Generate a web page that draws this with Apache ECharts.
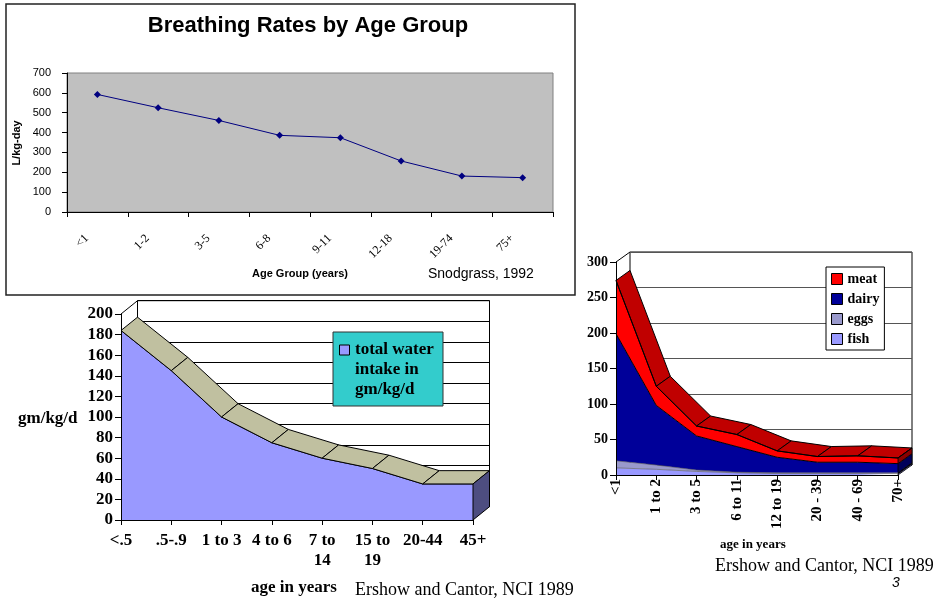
<!DOCTYPE html>
<html>
<head>
<meta charset="utf-8">
<script src="https://cdn.jsdelivr.net/npm/echarts/dist/echarts.min.js"></script>
<style>
html, body { margin: 0; padding: 0; background: #fff; }
#main { width: 947px; height: 610px; }
</style>
</head>
<body>
<div id="main"></div>
<script>
// breathing rates (top chart)
var breathAges = ['<1', '1-2', '3-5', '6-8', '9-11', '12-18', '19-74', '75+'];
var breathRates = [592, 525, 461, 386, 374, 257, 181, 173];

// total water intake (bottom left)
var waterAges = ['<.5', '.5-.9', '1 to 3', '4 to 6', '7 to\n14', '15 to\n19', '20-44', '45+'];
var waterIntake = [184, 145, 100, 75, 60, 50, 35, 35];

// food groups (bottom right), stacked
var foodAges = ['<1', '1 to 2', '3 to 5', '6 to 11', '12 to 19', '20 - 39', '40 - 69', '70+'];
var fish = [10, 8, 5, 3, 2, 2, 2, 2];
var eggs = [10, 6, 2, 1, 1, 1, 1, 1];
var dairy = [179, 84, 48, 36, 22, 15, 15, 13];
var meat = [75, 27, 14, 17, 9, 8, 9, 8];

var serif = '"Liberation Serif", "Times New Roman", serif';
var sans = '"Liberation Sans", Arial, sans-serif';

// plot boxes and 3D depth offsets
var g0 = { left: 67, top: 73, width: 486, height: 139 };
var g1 = { left: 121, top: 314, width: 352, height: 206 };
var d1 = [16.5, -13.3];
var g3 = { left: 616, top: 262, width: 282, height: 213 };
var d3 = [14, -10];

function backOf(g, d) {
    return { left: g.left + d[0], top: g.top + d[1], width: g.width, height: g.height };
}
function shift(p, d) {
    return [p[0] + d[0], p[1] + d[1]];
}
function gridBox(g, extra) {
    return Object.assign({ outerBoundsMode: 'none', containLabel: false }, g, extra);
}

// cumulative levels for the stacked food chart
var levels = [fish.map(function () { return 0; })];
[fish, eggs, dairy, meat].forEach(function (arr, k) {
    levels.push(arr.map(function (v, i) { return levels[k][i] + v; }));
});
var foodTop = levels[4];
var sideColors = ['#6a6ab0', '#6a6a90', '#00005a', '#8a0000'];

var waterRows = waterIntake.map(function (v, i) {
    return [i, v, i < waterIntake.length - 1 ? waterIntake[i + 1] : v];
});
var foodRows = foodTop.map(function (v, i) {
    return [i, v, i < foodTop.length - 1 ? foodTop[i + 1] : v];
});

function water3d(params, api) {
    var i = api.value(0);
    var kids = [];
    var a = api.coord([i, api.value(1)]);
    if (i < waterAges.length - 1) {
        var b = api.coord([i + 1, api.value(2)]);
        kids.push({
            type: 'polygon',
            shape: { points: [a, b, shift(b, d1), shift(a, d1)] },
            style: { fill: '#c0c0a0', stroke: '#000', lineWidth: 1 }
        });
    } else {
        var base = api.coord([i, 0]);
        kids.push({
            type: 'polygon',
            shape: { points: [a, shift(a, d1), shift(base, d1), base] },
            style: { fill: '#4d4d80', stroke: '#000', lineWidth: 1 }
        });
    }
    if (i === 0) {
        var top = api.coord([0, 200]);
        kids.push({ type: 'line', shape: { x1: top[0], y1: top[1], x2: top[0] + d1[0], y2: top[1] + d1[1] }, style: { stroke: '#000', lineWidth: 1 } });
    }
    return { type: 'group', children: kids };
}

function food3d(params, api) {
    var i = api.value(0);
    var kids = [];
    var a = api.coord([i, api.value(1)]);
    if (i < foodAges.length - 1) {
        var b = api.coord([i + 1, api.value(2)]);
        kids.push({
            type: 'polygon',
            shape: { points: [a, b, shift(b, d3), shift(a, d3)] },
            style: { fill: '#c00000', stroke: '#000', lineWidth: 1 }
        });
    } else {
        for (var k = 0; k < 4; k++) {
            var lo = api.coord([i, levels[k][i]]);
            var hi = api.coord([i, levels[k + 1][i]]);
            kids.push({
                type: 'polygon',
                shape: { points: [hi, shift(hi, d3), shift(lo, d3), lo] },
                style: { fill: sideColors[k], stroke: '#000', lineWidth: 0.8 }
            });
        }
        var tb = api.coord([i, api.value(1)]);
        kids.push({ type: 'line', shape: { x1: tb[0], y1: tb[1], x2: tb[0] + d3[0], y2: tb[1] + d3[1] }, style: { stroke: '#000', lineWidth: 1 } });
    }
    if (i === 0) {
        var top = api.coord([0, 300]);
        kids.push({ type: 'line', shape: { x1: top[0], y1: top[1], x2: top[0] + d3[0], y2: top[1] + d3[1] }, style: { stroke: '#000', lineWidth: 1 } });
    }
    return { type: 'group', children: kids };
}

var black = { color: '#000' };

var myChart = echarts.init(document.getElementById('main'));

var option = {
    backgroundColor: '#fff',
    animation: false,
    grid: [
        gridBox(g0, { show: true, backgroundColor: '#c0c0c0', borderColor: '#808080', borderWidth: 1 }),
        gridBox(g1, { show: false }),
        gridBox(backOf(g1, d1), { show: true, backgroundColor: '#fff', borderColor: '#000', borderWidth: 1 }),
        gridBox(g3, { show: false }),
        gridBox(backOf(g3, d3), { show: true, backgroundColor: '#fff', borderColor: '#000', borderWidth: 1 })
    ],
    xAxis: [
        {
            gridIndex: 0, type: 'category', data: breathAges, boundaryGap: true,
            axisLine: { show: true, lineStyle: black },
            axisTick: { show: true, length: 5, lineStyle: black },
            axisLabel: { interval: 0, rotate: 45, fontFamily: serif, fontSize: 12, color: '#000', margin: 14, padding: [0, 15, 0, 0] },
            splitLine: { show: false }
        },
        {
            gridIndex: 1, type: 'category', data: waterAges, boundaryGap: false, z: 5,
            axisLine: { show: true, lineStyle: black },
            axisTick: { show: true, length: 5, interval: 0, lineStyle: black },
            axisLabel: { interval: 0, fontFamily: serif, fontWeight: 'bold', fontSize: 17, lineHeight: 20, color: '#000', margin: 11 },
            splitLine: { show: false }
        },
        { gridIndex: 2, type: 'category', data: waterAges, boundaryGap: false, show: false },
        {
            gridIndex: 3, type: 'category', data: foodAges, boundaryGap: false, z: 5,
            axisLine: { show: true, lineStyle: black },
            axisTick: { show: true, length: 5, interval: 0, lineStyle: black },
            axisLabel: { interval: 0, rotate: 90, fontFamily: serif, fontWeight: 'bold', fontSize: 15, color: '#000', margin: 4 },
            splitLine: { show: false }
        },
        { gridIndex: 4, type: 'category', data: foodAges, boundaryGap: false, show: false }
    ],
    yAxis: [
        {
            gridIndex: 0, type: 'value', min: 0, max: 700, interval: 100,
            axisLine: { show: true, lineStyle: black },
            axisTick: { show: true, length: 5, lineStyle: black },
            axisLabel: { fontFamily: sans, fontSize: 11, color: '#000', margin: 16 },
            splitLine: { show: false }
        },
        {
            gridIndex: 1, type: 'value', min: 0, max: 200, interval: 20, z: 5,
            axisLine: { show: true, lineStyle: black },
            axisTick: { show: true, length: 6, lineStyle: black },
            axisLabel: { fontFamily: serif, fontWeight: 'bold', fontSize: 17, color: '#000', margin: 8 },
            splitLine: { show: false }
        },
        {
            gridIndex: 2, type: 'value', min: 0, max: 200, interval: 20,
            axisLine: { show: false }, axisTick: { show: false }, axisLabel: { show: false },
            splitLine: { show: true, lineStyle: { color: '#000', width: 1 } }
        },
        {
            gridIndex: 3, type: 'value', min: 0, max: 300, interval: 50, z: 5,
            axisLine: { show: true, lineStyle: black },
            axisTick: { show: true, length: 6, lineStyle: black },
            axisLabel: { fontFamily: serif, fontWeight: 'bold', fontSize: 14, color: '#000', margin: 8 },
            splitLine: { show: false }
        },
        {
            gridIndex: 4, type: 'value', min: 0, max: 300, interval: 50,
            axisLine: { show: false }, axisTick: { show: false }, axisLabel: { show: false },
            splitLine: { show: true, lineStyle: { color: '#555', width: 1 } }
        }
    ],
    legend: {
        data: ['meat', 'dairy', 'eggs', 'fish'],
        orient: 'vertical', left: 826, top: 267,
        icon: 'rect', itemWidth: 11, itemHeight: 11, itemGap: 6,
        padding: [5, 5, 4, 5],
        backgroundColor: '#fff', borderColor: '#000', borderWidth: 1,
        selectedMode: false,
        itemStyle: { borderColor: '#000', borderWidth: 1 },
        textStyle: { fontFamily: serif, fontWeight: 'bold', fontSize: 14, color: '#000' }
    },
    series: [
        {
            name: 'breathing', type: 'line', xAxisIndex: 0, yAxisIndex: 0,
            data: breathRates, symbol: 'diamond', symbolSize: 7,
            itemStyle: { color: '#000080' }, lineStyle: { color: '#000080', width: 1 }
        },
        {
            name: 'total water', type: 'line', xAxisIndex: 1, yAxisIndex: 1,
            data: waterIntake, symbol: 'none', z: 2,
            lineStyle: { color: '#000', width: 1 },
            areaStyle: { color: '#9999ff', opacity: 1 }
        },
        {
            name: 'water 3d', type: 'custom', xAxisIndex: 1, yAxisIndex: 1,
            data: waterRows, renderItem: water3d, clip: false, z: 3
        },
        {
            name: 'fish', type: 'line', stack: 'food', xAxisIndex: 3, yAxisIndex: 3,
            data: fish, symbol: 'none', color: '#9999ff',
            lineStyle: { color: '#555', width: 0.6 }, areaStyle: { color: '#9999ff', opacity: 1 }
        },
        {
            name: 'eggs', type: 'line', stack: 'food', xAxisIndex: 3, yAxisIndex: 3,
            data: eggs, symbol: 'none', color: '#9999cc',
            lineStyle: { color: '#555', width: 0.6 }, areaStyle: { color: '#9999cc', opacity: 1 }
        },
        {
            name: 'dairy', type: 'line', stack: 'food', xAxisIndex: 3, yAxisIndex: 3,
            data: dairy, symbol: 'none', color: '#000099',
            lineStyle: { color: '#000', width: 1 }, areaStyle: { color: '#000099', opacity: 1 }
        },
        {
            name: 'meat', type: 'line', stack: 'food', xAxisIndex: 3, yAxisIndex: 3,
            data: meat, symbol: 'none', color: '#ff0000',
            lineStyle: { color: '#000', width: 1 }, areaStyle: { color: '#ff0000', opacity: 1 }
        },
        {
            name: 'food 3d', type: 'custom', xAxisIndex: 3, yAxisIndex: 3,
            data: foodRows, renderItem: food3d, clip: false, z: 3
        }
    ],
    graphic: [
        { type: 'rect', z: 10, shape: { x: 6, y: 4, width: 569, height: 291 }, style: { fill: 'none', stroke: '#222', lineWidth: 1.5 } },
        { type: 'text', z: 10, x: 308, y: 26, style: { text: 'Breathing Rates by Age Group', font: 'bold 22px ' + sans, fill: '#000', align: 'center', verticalAlign: 'middle' } },
        { type: 'text', z: 10, x: 17, y: 143, rotation: Math.PI / 2, style: { text: 'L/kg-day', font: 'bold 11px ' + sans, fill: '#000', align: 'center', verticalAlign: 'middle' } },
        { type: 'text', z: 10, x: 300, y: 274, style: { text: 'Age Group (years)', font: 'bold 11px ' + sans, fill: '#000', align: 'center', verticalAlign: 'middle' } },
        { type: 'text', z: 10, x: 428, y: 274, style: { text: 'Snodgrass, 1992', font: '14px ' + sans, fill: '#000', align: 'left', verticalAlign: 'middle' } },

        { type: 'rect', z: 10, shape: { x: 333, y: 332, width: 110, height: 74 }, style: { fill: '#33cccc', stroke: '#333', lineWidth: 1 } },
        { type: 'rect', z: 11, shape: { x: 339.5, y: 345, width: 10, height: 10 }, style: { fill: '#9999ff', stroke: '#000', lineWidth: 1 } },
        { type: 'text', z: 11, x: 355, y: 340, style: { text: 'total water\nintake in\ngm/kg/d', font: 'bold 17px ' + serif, lineHeight: 20, fill: '#000', align: 'left', verticalAlign: 'top' } },
        { type: 'text', z: 10, x: 18, y: 419, style: { text: 'gm/kg/d', font: 'bold 17px ' + serif, fill: '#000', align: 'left', verticalAlign: 'middle' } },
        { type: 'text', z: 10, x: 251, y: 588, style: { text: 'age in years', font: 'bold 17px ' + serif, fill: '#000', align: 'left', verticalAlign: 'middle' } },
        { type: 'text', z: 10, x: 355, y: 590, style: { text: 'Ershow and Cantor, NCI 1989', font: '18px ' + serif, fill: '#000', align: 'left', verticalAlign: 'middle' } },

        { type: 'text', z: 10, x: 720, y: 545, style: { text: 'age in years', font: 'bold 13px ' + serif, fill: '#000', align: 'left', verticalAlign: 'middle' } },
        { type: 'text', z: 10, x: 715, y: 566, style: { text: 'Ershow and Cantor, NCI 1989', font: '18px ' + serif, fill: '#000', align: 'left', verticalAlign: 'middle' } },
        { type: 'text', z: 10, x: 892, y: 583, style: { text: '3', font: 'italic 14px ' + sans, fill: '#000', align: 'left', verticalAlign: 'middle' } }
    ]
};

myChart.setOption(option);
</script>
</body>
</html>
